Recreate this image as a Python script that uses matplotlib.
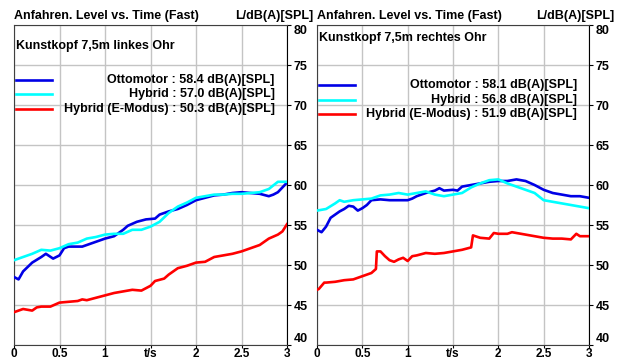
import numpy as np
import matplotlib.pyplot as plt
from matplotlib.lines import Line2D

plt.rcParams['font.family'] = ['Liberation Sans', 'DejaVu Sans']
plt.rcParams['font.weight'] = 'bold'
plt.rcParams['font.size'] = 9

# Kunstkopf links
t_otto_l = [0, 0.05, 0.1, 0.2, 0.3, 0.35, 0.43, 0.5, 0.55, 0.6, 0.75, 0.8, 0.9, 1.0, 1.1, 1.2, 1.25,
            1.35, 1.45, 1.55, 1.6, 1.7, 1.8, 1.9, 2.0, 2.1, 2.2, 2.3, 2.4, 2.5, 2.6, 2.7, 2.8, 2.85, 2.9, 3.0]
otto_l = [48.5, 48.2, 49.2, 50.3, 51.0, 51.4, 50.8, 51.2, 52.1, 52.3, 52.3, 52.5, 52.9, 53.3, 53.6, 54.4, 54.9,
          55.4, 55.7, 55.8, 56.3, 56.7, 57.0, 57.5, 58.1, 58.4, 58.7, 58.8, 59.0, 59.1, 59.0, 58.9, 58.6, 58.8, 59.1, 60.3]

t_hyb_l = [0, 0.1, 0.2, 0.3, 0.4, 0.5, 0.6, 0.7, 0.8, 0.9, 1.0, 1.1, 1.2, 1.3, 1.4, 1.5, 1.6, 1.7, 1.8,
           1.9, 2.0, 2.1, 2.2, 2.3, 2.4, 2.5, 2.6, 2.7, 2.8, 2.9, 3.0]
hyb_l = [50.6, 51.0, 51.4, 51.9, 51.8, 52.1, 52.6, 52.8, 53.3, 53.5, 53.8, 53.9, 53.9, 54.4, 54.4, 54.8, 55.4,
         56.5, 57.3, 57.8, 58.4, 58.6, 58.8, 58.8, 58.9, 58.9, 59.0, 59.1, 59.5, 60.4, 60.4]

t_ehyb_l = [0, 0.1, 0.2, 0.25, 0.3, 0.4, 0.5, 0.6, 0.7, 0.75, 0.8, 0.9, 1.0, 1.1, 1.2, 1.3, 1.4, 1.5, 1.55,
            1.65, 1.7, 1.8, 1.9, 2.0, 2.1, 2.2, 2.3, 2.4, 2.5, 2.6, 2.7, 2.8, 2.9, 2.95, 3.0]
ehyb_l = [44.1, 44.5, 44.3, 44.7, 44.8, 44.8, 45.3, 45.4, 45.5, 45.7, 45.6, 45.9, 46.2, 46.5, 46.7, 46.9, 46.8,
          47.4, 48.0, 48.3, 48.8, 49.6, 49.9, 50.3, 50.4, 51.0, 51.2, 51.4, 51.7, 52.1, 52.5, 53.3, 53.8, 54.2, 55.1]

# Kunstkopf rechts
t_otto_r = [0, 0.05, 0.1, 0.15, 0.2, 0.25, 0.3, 0.35, 0.4, 0.45, 0.5, 0.55, 0.6, 0.7, 0.8, 0.9, 1.0, 1.05,
            1.1, 1.2, 1.3, 1.35, 1.4, 1.5, 1.55, 1.6, 1.7, 1.8, 1.9, 2.0, 2.1, 2.2, 2.3, 2.4, 2.5, 2.6, 2.7,
            2.8, 2.9, 3.0]
otto_r = [54.4, 54.1, 54.8, 55.9, 56.3, 56.7, 57.0, 57.4, 57.3, 56.8, 57.1, 57.5, 58.1, 58.2, 58.1, 58.1, 58.1,
          58.3, 58.6, 59.0, 59.3, 59.6, 59.3, 59.4, 59.3, 59.8, 60.0, 60.2, 60.4, 60.5, 60.5, 60.7, 60.5, 60.0,
          59.4, 59.0, 58.8, 58.6, 58.6, 58.4]

t_hyb_r = [0, 0.1, 0.2, 0.25, 0.3, 0.4, 0.5, 0.6, 0.7, 0.8, 0.9, 1.0, 1.1, 1.2, 1.3, 1.4, 1.5, 1.6, 1.7,
           1.8, 1.9, 2.0, 2.1, 2.2, 2.3, 2.4, 2.5, 2.6, 2.7, 2.8, 2.9, 3.0]
hyb_r = [56.8, 57.0, 57.7, 58.1, 57.9, 58.1, 58.2, 58.3, 58.7, 58.8, 59.0, 58.8, 59.0, 59.2, 58.8, 58.6, 58.8,
         59.0, 59.7, 60.2, 60.6, 60.7, 60.2, 59.8, 59.4, 59.0, 58.1, 57.9, 57.7, 57.5, 57.3, 57.1]

t_ehyb_r = [0, 0.02, 0.08, 0.1, 0.2, 0.3, 0.4, 0.5, 0.6, 0.65, 0.66, 0.7, 0.75, 0.8, 0.85, 0.9, 0.95, 1.0,
            1.05, 1.1, 1.2, 1.3, 1.4, 1.5, 1.6, 1.7, 1.72, 1.8, 1.9, 1.95, 2.0, 2.1, 2.15, 2.2, 2.3, 2.4, 2.5,
            2.6, 2.7, 2.8, 2.86, 2.9, 3.0]
ehyb_r = [46.9, 47.0, 47.8, 47.8, 47.9, 48.1, 48.2, 48.6, 49.0, 49.5, 51.7, 51.7, 51.1, 50.6, 50.4, 50.7, 50.9,
          50.5, 51.1, 51.2, 51.5, 51.4, 51.5, 51.7, 51.9, 52.2, 53.7, 53.4, 53.3, 54.0, 53.9, 53.9, 54.1, 54.0,
          53.8, 53.6, 53.4, 53.3, 53.3, 53.2, 53.9, 53.6, 53.6]

namen = ['Ottomotor', 'Hybrid', 'Hybrid (E-Modus)']
farben = ['#0000e6', '#00ffff', '#ff0000']
werte_l = ['58.4', '57.0', '50.3']
werte_r = ['58.1', '56.8', '51.9']

fig = plt.figure(figsize=(6.26, 3.6), dpi=100)
ax1 = fig.add_axes([14 / 626, 15 / 360, 273 / 626, 320 / 360])
ax2 = fig.add_axes([317 / 626, 15 / 360, 272 / 626, 320 / 360])


def panel(ax, daten, werte, untertitel, y_sub, y_leg):
    for (t, v), farbe in zip(daten, farben):
        ax.plot(t, v, color=farbe, lw=1.9, zorder=3)
    ax.set_xlim(0, 3)
    ax.set_ylim(40, 80)
    ax.set_xticks([0, 0.5, 1, 1.5, 2, 2.5, 3], ['0', '0.5', '1', 't/s', '2', '2.5', '3'])
    ax.set_yticks([40, 45, 50, 55, 60, 65, 70, 75, 80])
    ax.yaxis.tick_right()
    ax.tick_params(axis='y', direction='out', length=3, pad=2, labelsize=9)
    ax.tick_params(axis='x', direction='out', length=2, pad=0, labelsize=8.5)
    for lab in ax.get_yticklabels():
        if lab.get_text() == '80':
            lab.set_va('top')
        elif lab.get_text() == '40':
            lab.set_va('bottom')
    ax.grid(True, color='#c4c4c4', lw=1, zorder=0)
    for s in ax.spines.values():
        s.set_color('#404040')
        s.set_linewidth(0.8)
    ax.spines['right'].set_color('black')
    ax.text(0.0, 1.01, 'Anfahren. Level vs. Time (Fast)', transform=ax.transAxes,
            ha='left', va='bottom', fontsize=9, fontweight='bold')
    ax.text(1.095, 1.01, 'L/dB(A)[SPL]', transform=ax.transAxes,
            ha='right', va='bottom', fontsize=9, fontweight='bold')
    ax.text(0.008, y_sub, untertitel, transform=ax.transAxes, ha='left', va='center',
            fontsize=9, fontweight='bold')
    for i, (name, farbe, wert) in enumerate(zip(namen, farben, werte)):
        y = y_leg - i * 0.045
        ax.add_line(Line2D([0.008, 0.14], [y, y], color=farbe, lw=1.9, transform=ax.transAxes))
        ax.text(0.955, y, f'{name} : {wert} dB(A)[SPL]', transform=ax.transAxes,
                ha='right', va='center', fontsize=9, fontweight='bold')


panel(ax1, [(t_otto_l, otto_l), (t_hyb_l, hyb_l), (t_ehyb_l, ehyb_l)], werte_l,
      'Kunstkopf 7,5m linkes Ohr', 0.935, 0.828)
panel(ax2, [(t_otto_r, otto_r), (t_hyb_r, hyb_r), (t_ehyb_r, ehyb_r)], werte_r,
      'Kunstkopf 7,5m rechtes Ohr', 0.96, 0.812)

fig.savefig('out.png', dpi=100)
